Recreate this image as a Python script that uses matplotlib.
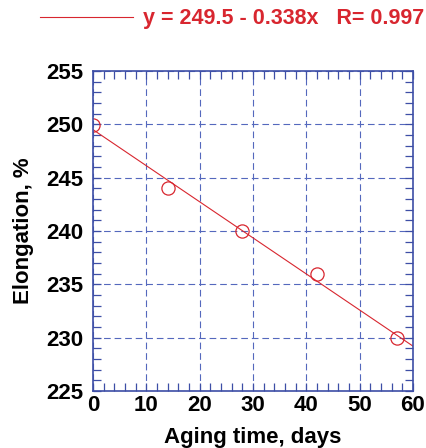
import numpy as np
import matplotlib.pyplot as plt
from matplotlib.ticker import MultipleLocator

# aging time (days) vs. elongation (%)
days = [0, 14, 28, 42, 57]
elongation = [249.9, 244.0, 240.0, 236.0, 230.0]

# linear fit reported on the chart
intercept = 249.5
slope = -0.338
r_value = 0.997

blue = '#3d4ea6'
red = '#d8262f'

plt.rcParams['font.family'] = ['Liberation Sans', 'DejaVu Sans']
plt.rcParams['font.weight'] = 'bold'

fig = plt.figure(figsize=(4.27, 4.48), dpi=100)
ax = fig.add_axes([0.218, 0.127, 0.749, 0.7145])

xfit = np.array([0, 60])
fit_line, = ax.plot(xfit, intercept + slope * xfit, color=red, lw=0.8,
                    label=f'y = {intercept} - {abs(slope)}x   R= {r_value}')
ax.plot(days, elongation, 'o', mfc='none', mec=red, ms=9.5, mew=0.9)

ax.set_xlim(0, 60)
ax.set_ylim(225, 255)
ax.xaxis.set_major_locator(MultipleLocator(10))
ax.xaxis.set_minor_locator(MultipleLocator(2))
ax.yaxis.set_major_locator(MultipleLocator(5))
ax.yaxis.set_minor_locator(MultipleLocator(1))

ax.grid(True, which='major', color='#5468bd', ls=(0, (6, 3.5)), lw=0.8)
for sp in ax.spines.values():
    sp.set_color(blue)
    sp.set_linewidth(1.2)

ax.tick_params(which='both', direction='in', top=True, right=True,
               color=blue, length=6, width=0.9)
ax.tick_params(axis='y', which='major', pad=7, labelsize=16)
ax.tick_params(axis='x', which='major', pad=3, labelsize=16)

ax.set_xlabel('Aging time, days', fontsize=16, fontweight='bold', labelpad=8)
ax.set_ylabel('Elongation, %', fontsize=16, fontweight='bold', labelpad=9)

fig.legend(handles=[fit_line], loc='center left', bbox_to_anchor=(0.094, 0.958),
           frameon=False, handlelength=4.3, handletextpad=0.47,
           borderaxespad=0, borderpad=0,
           prop={'size': 15.5, 'weight': 'bold'}, labelcolor=red)

fig.savefig('out.png', dpi=100)
